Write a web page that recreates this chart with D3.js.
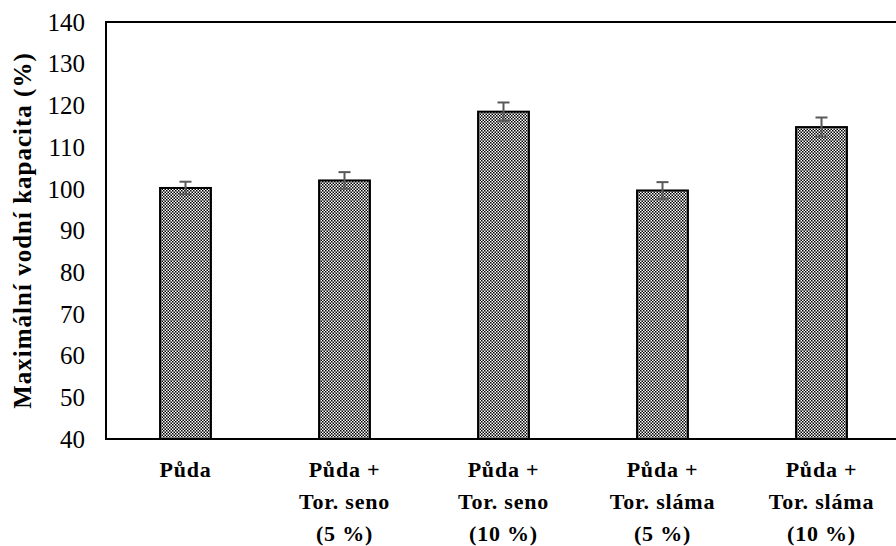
<!DOCTYPE html>
<html>
<head>
<meta charset="utf-8">
<script src="https://cdn.jsdelivr.net/npm/d3@7"></script>
<style>
  body { margin: 0; background: #fff; }
  text { font-family: "Liberation Serif", "DejaVu Serif", "Times New Roman", serif; }
</style>
</head>
<body>
<div id="chart"></div>
<script>
// data
var categories = [
  ['Půda'],
  ['Půda +', 'Tor. seno', '(5 %)'],
  ['Půda +', 'Tor. seno', '(10 %)'],
  ['Půda +', 'Tor. sláma', '(5 %)'],
  ['Půda +', 'Tor. sláma', '(10 %)']
];
var values = [100.2, 102.0, 118.5, 99.6, 114.8];
var errors = [1.5, 2.0, 2.2, 2.0, 2.3];
var yTicks = [40, 50, 60, 70, 80, 90, 100, 110, 120, 130, 140];

var width = 896, height = 546;
var margin = {left: 106, top: 22, right: -5, bottom: 107};
var serif = '"Liberation Serif", "DejaVu Serif", serif';

var svg = d3.select('#chart').append('svg')
  .attr('width', width)
  .attr('height', height);

// dotted fill like the original office pattern
var defs = svg.append('defs');
var pat = defs.append('pattern')
  .attr('id', 'dots')
  .attr('patternUnits', 'userSpaceOnUse')
  .attr('width', 3)
  .attr('height', 3);
pat.append('rect').attr('width', 3).attr('height', 3).attr('fill', '#808080');
pat.append('rect').attr('x', 0).attr('y', 0).attr('width', 1).attr('height', 1).attr('fill', '#000');
pat.append('rect').attr('x', 1).attr('y', 1).attr('width', 1).attr('height', 1).attr('fill', '#000');
pat.append('rect').attr('x', 1).attr('y', 0).attr('width', 1).attr('height', 1).attr('fill', '#fff');
pat.append('rect').attr('x', 0).attr('y', 1).attr('width', 1).attr('height', 1).attr('fill', '#fff');

var x = d3.scaleBand()
  .domain(d3.range(categories.length))
  .range([margin.left, width - margin.right])
  .paddingInner(0.68)
  .paddingOuter(0.34);

var y = d3.scaleLinear()
  .domain([40, 140])
  .range([height - margin.bottom, margin.top]);

// y tick labels
svg.append('g')
  .selectAll('text')
  .data(yTicks)
  .enter()
  .append('text')
  .attr('x', 85)
  .attr('y', function(d) { return y(d); })
  .attr('dy', '0.35em')
  .attr('text-anchor', 'end')
  .attr('font-family', serif)
  .style('font-size', '25px')
  .text(function(d) { return d; });

// axis title
svg.append('text')
  .attr('transform', 'translate(22,' + ((y(40) + y(140)) / 2) + ') rotate(-90)')
  .attr('text-anchor', 'middle')
  .attr('dy', '0.35em')
  .attr('font-family', serif)
  .style('font-size', '25px')
  .style('font-weight', 'bold')
  .style('letter-spacing', '1px')
  .text('Maximální vodní kapacita (%)');

// bars
svg.append('g')
  .selectAll('rect')
  .data(values)
  .enter()
  .append('rect')
  .attr('x', function(d, i) { return x(i); })
  .attr('y', function(d) { return y(d); })
  .attr('width', x.bandwidth())
  .attr('height', function(d) { return y(40) - y(d); })
  .attr('fill', 'url(#dots)')
  .attr('stroke', '#000')
  .attr('stroke-width', 2);

// error bars
var eb = svg.append('g')
  .attr('stroke', '#595959')
  .attr('stroke-width', 2);
values.forEach(function(v, i) {
  var cx = x(i) + x.bandwidth() / 2;
  eb.append('line')
    .attr('x1', cx).attr('x2', cx)
    .attr('y1', y(v - errors[i])).attr('y2', y(v + errors[i]));
  eb.append('line')
    .attr('x1', cx - 6).attr('x2', cx + 6)
    .attr('y1', y(v + errors[i])).attr('y2', y(v + errors[i]));
  eb.append('line')
    .attr('x1', cx - 6).attr('x2', cx + 6)
    .attr('y1', y(v - errors[i])).attr('y2', y(v - errors[i]));
});

// frame: left, top, bottom
svg.append('path')
  .attr('d', 'M' + width + ',' + y(140) + 'H' + margin.left + 'V' + y(40) + 'H' + width)
  .attr('fill', 'none')
  .attr('stroke', '#000')
  .attr('stroke-width', 2);

// category labels
var lab = svg.append('g')
  .selectAll('text')
  .data(categories)
  .enter()
  .append('text')
  .attr('text-anchor', 'middle')
  .attr('font-family', serif)
  .style('font-size', '22px')
  .style('font-weight', 'bold')
  .style('letter-spacing', '0.8px')
  .attr('transform', function(d, i) { return 'translate(' + (x(i) + x.bandwidth() / 2) + ',477)'; });
lab.selectAll('tspan')
  .data(function(d) { return d; })
  .enter()
  .append('tspan')
  .attr('x', 0)
  .attr('y', function(d, j) { return j * 32; })
  .text(function(d) { return d; });
</script>
</body>
</html>
